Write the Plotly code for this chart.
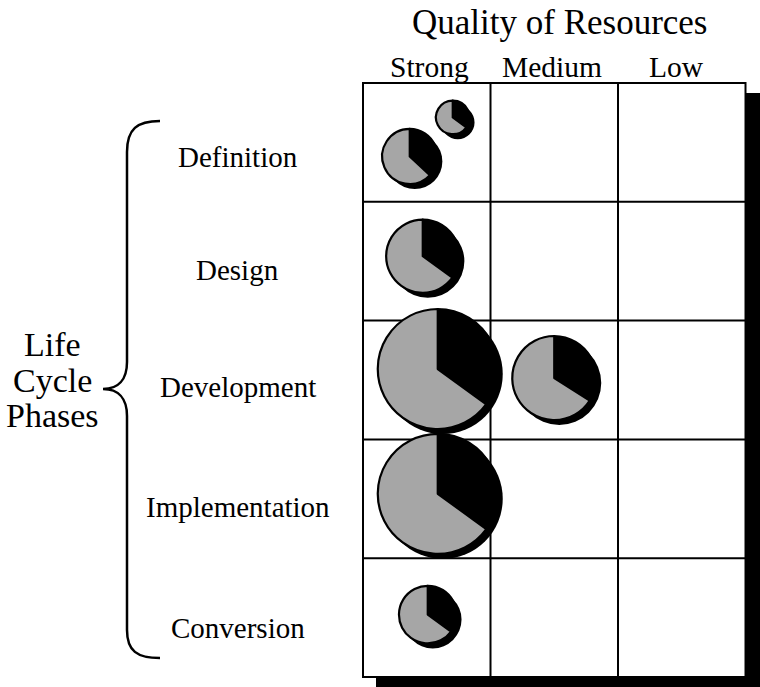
import plotly.graph_objects as go

# ---------------- data ----------------
quality_levels = ["Strong", "Medium", "Low"]
phases = ["Definition", "Design", "Development", "Implementation", "Conversion"]
column_title = "Quality of Resources"
row_title_lines = ["Life", "Cycle", "Phases"]

pie_phase = ["Definition", "Definition", "Design", "Development",
             "Development", "Implementation", "Conversion"]
pie_quality = ["Strong", "Strong", "Strong", "Strong", "Medium", "Strong", "Strong"]
pie_size = [0.28, 0.46, 0.61, 1.00, 0.70, 1.00, 0.48]      # relative magnitude
share_black = [35, 37, 35, 35, 34, 35, 35]
share_gray = [100 - b for b in share_black]

# ---------------- layout constants (pixels) ----------------
W, H = 760, 687
GX0, GX1 = 363.0, 745.5          # grid left/right
GY0, GY1 = 83.0, 677.0           # grid top/bottom
NC, NR = len(quality_levels), len(phases)
CW = (GX1 - GX0) / NC
RH = (GY1 - GY0) / NR
PAD = 0.05                        # axis padding (in cell units)
R_MAX = 60.0                      # radius of a size-1.0 pie
SHADOW = 5.0                      # pie drop-shadow offset
# small placement nudges of the pies inside their cells (pixels)
pie_dx = [26, -17, -4, 11, 0, 11, 1]
pie_dy = [-25, 14, -5, -11, -2, -5, -3]

def px_x(v):  # data x -> pixel
    return GX0 + v * CW

def px_y(v):  # data y (rows, top=0) -> pixel
    return GY0 + v * RH

def paper_x(p):
    return p / W

def paper_y(p):
    return 1 - p / H

FONT = "Liberation Serif, Times New Roman, serif"

fig = go.Figure()

# invisible cartesian trace so the cell axes exist
cell_x, cell_y = [], []
for r in range(NR):
    for c in range(NC):
        cell_x.append(c + 0.5)
        cell_y.append(r + 0.5)
fig.add_trace(go.Scatter(x=cell_x, y=cell_y, mode="markers",
                         marker=dict(opacity=0), hoverinfo="skip", showlegend=False))

# pies (shadow pie + real pie)
for i in range(len(pie_size)):
    c = quality_levels.index(pie_quality[i]) + 0.5
    r = phases.index(pie_phase[i]) + 0.5
    cx = px_x(c) + pie_dx[i]
    cy = px_y(r) + pie_dy[i]
    rad = R_MAX * pie_size[i]
    for shadow in (True, False):
        off = SHADOW if shadow else 0.0
        dom = dict(x=[paper_x(cx + off - rad), paper_x(cx + off + rad)],
                   y=[paper_y(cy + off + rad), paper_y(cy + off - rad)])
        if shadow:
            fig.add_trace(go.Pie(values=[1], domain=dom, sort=False,
                                 marker=dict(colors=["black"], line=dict(width=0)),
                                 textinfo="none", hoverinfo="skip", showlegend=False))
        else:
            fig.add_trace(go.Pie(values=[share_black[i], share_gray[i]],
                                 labels=["black", "gray"], domain=dom, sort=False,
                                 direction="clockwise", rotation=0,
                                 marker=dict(colors=["black", "#a6a6a6"],
                                             line=dict(color="black", width=2.2)),
                                 textinfo="none", hoverinfo="skip", showlegend=False))

shapes = []
# grid drop shadow (paper)
shapes.append(dict(type="rect", xref="paper", yref="paper", layer="below",
                   x0=paper_x(GX0 + 13), x1=paper_x(GX1 + 40),
                   y0=paper_y(GY1 + 20), y1=paper_y(GY0 + 10),
                   fillcolor="black", line=dict(width=0)))
# grid frame and lines (data)
shapes.append(dict(type="rect", xref="x", yref="y", layer="below",
                   x0=0, x1=NC, y0=0, y1=NR, fillcolor="white",
                   line=dict(color="black", width=2)))
for c in range(1, NC):
    shapes.append(dict(type="line", xref="x", yref="y", layer="below",
                       x0=c, x1=c, y0=0, y1=NR, line=dict(color="black", width=2)))
for r in range(1, NR):
    shapes.append(dict(type="line", xref="x", yref="y", layer="below",
                       x0=0, x1=NC, y0=r, y1=r, line=dict(color="black", width=2)))

# curly brace (pixels -> paper)
def P(x, y):
    return f"{paper_x(x):.5f},{paper_y(y):.5f}"

brace = ("M " + P(160, 121) +
         " C " + P(137, 121) + " " + P(127, 129) + " " + P(127, 152) +
         " L " + P(127, 362) +
         " C " + P(127, 380) + " " + P(118, 389) + " " + P(103, 389) +
         " C " + P(118, 389) + " " + P(127, 398) + " " + P(127, 416) +
         " L " + P(127, 630) +
         " C " + P(127, 651) + " " + P(137, 658) + " " + P(160, 658))
shapes.append(dict(type="path", xref="paper", yref="paper", path=brace,
                   line=dict(color="black", width=2.5)))

annotations = []
annotations.append(dict(text=column_title, xref="paper", yref="paper",
                        x=paper_x(559), y=paper_y(22), showarrow=False,
                        xanchor="center", yanchor="middle",
                        font=dict(family=FONT, size=35, color="black")))
col_nudge = [3, -2, -5]
for c, q in enumerate(quality_levels):
    annotations.append(dict(text=q, xref="paper", yref="paper",
                            x=paper_x(px_x(c + 0.5) + col_nudge[c]), y=paper_y(67),
                            showarrow=False, xanchor="center", yanchor="middle",
                            font=dict(family=FONT, size=29.5, color="black")))
row_nudge = [15, 9, 7, 8, 10]
for r, ph in enumerate(phases):
    annotations.append(dict(text=ph, xref="paper", yref="paper",
                            x=paper_x(237.5), y=paper_y(px_y(r + 0.5) + row_nudge[r]),
                            showarrow=False, xanchor="center", yanchor="middle",
                            font=dict(family=FONT, size=29, color="black")))
for k, line in enumerate(row_title_lines):
    annotations.append(dict(text=line, xref="paper", yref="paper",
                            x=paper_x(53), y=paper_y([344, 380, 415][k]),
                            showarrow=False, xanchor="center", yanchor="middle",
                            font=dict(family=FONT, size=34, color="black")))

xr = [-PAD, NC + PAD]
yr = [NR + PAD, -PAD]
fig.update_layout(
    width=W, height=H,
    margin=dict(l=0, r=0, t=0, b=0, pad=0),
    paper_bgcolor="white", plot_bgcolor="rgba(0,0,0,0)",
    xaxis=dict(range=xr, visible=False, fixedrange=True,
               domain=[paper_x(px_x(xr[0])), paper_x(px_x(xr[1]))]),
    yaxis=dict(range=yr, visible=False, fixedrange=True,
               domain=[paper_y(px_y(yr[0])), paper_y(px_y(yr[1]))]),
    shapes=shapes, annotations=annotations, showlegend=False,
)

fig.write_html("out.html", config={"displayModeBar": False},
               post_script="document.body.style.margin='0';document.body.style.overflow='hidden';")
